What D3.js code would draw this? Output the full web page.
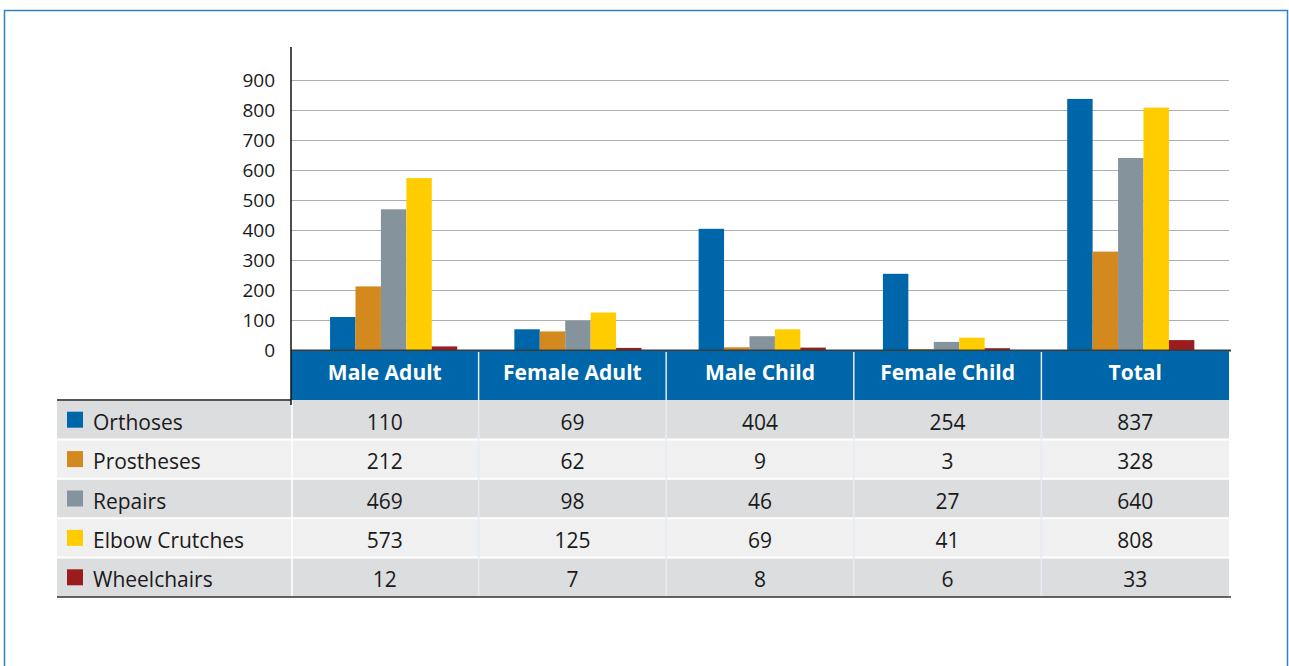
<!DOCTYPE html>
<html>
<head>
<meta charset="utf-8">
<script src="https://cdn.jsdelivr.net/npm/d3@7"></script>
<style>
  body { margin: 0; background: #fff; }
  svg { display: block; font-family: "Open Sans", "Noto Sans", sans-serif; }
</style>
</head>
<body>
<svg id="chart" width="1289" height="666"></svg>
<script>
const categories = ["Male Adult", "Female Adult", "Male Child", "Female Child", "Total"];
const series = ["Orthoses", "Prostheses", "Repairs", "Elbow Crutches", "Wheelchairs"];
const orthoses = [110, 69, 404, 254, 837];
const prostheses = [212, 62, 9, 3, 328];
const repairs = [469, 98, 46, 27, 640];
const elbowCrutches = [573, 125, 69, 41, 808];
const wheelchairs = [12, 7, 8, 6, 33];
const yTicks = [0, 100, 200, 300, 400, 500, 600, 700, 800, 900];
const colors = ["#0066aa", "#d4891e", "#85939c", "#ffcc00", "#9b1c1f"];

const values = [orthoses, prostheses, repairs, elbowCrutches, wheelchairs];

const svg = d3.select("#chart");

// light blue frame
svg.append("rect")
    .attr("x", 4.5).attr("y", 10.5)
    .attr("width", 1283).attr("height", 700)
    .attr("fill", "none")
    .attr("stroke", "#2f83c4")
    .attr("stroke-width", 1.5);

const plotLeft = 291, plotRight = 1229, tableLeft = 57;
const headTop = 351, headBottom = 400, rowH = 39.4;

const y = d3.scaleLinear().domain([0, 900]).range([350, 80]);

// table column scale (no padding)
const xCol = d3.scaleBand().domain(categories).range([plotLeft, plotRight]);

// bar group scale
const x0 = d3.scaleBand().domain(categories).range([plotLeft, plotRight])
    .paddingInner(0.31).paddingOuter(0.2).align(0.53);
const x1 = d3.scaleBand().domain(series).range([0, x0.bandwidth()]);

// gridlines + tick labels
const yAxis = d3.axisLeft(y).tickValues(yTicks).tickSize(0).tickPadding(16);
const gy = svg.append("g").attr("transform", `translate(${plotLeft},0)`).call(yAxis);
gy.select(".domain").remove();
gy.selectAll("text")
    .attr("font-size", 19)
    .attr("fill", "#1a1a1a")
    .attr("font-family", "'Open Sans', sans-serif");

svg.append("g")
  .selectAll("line")
  .data(yTicks.filter(d => d > 0))
  .join("line")
    .attr("x1", plotLeft).attr("x2", plotRight)
    .attr("y1", d => Math.round(y(d)) + 0.5)
    .attr("y2", d => Math.round(y(d)) + 0.5)
    .attr("stroke", "#b0b0b0")
    .attr("stroke-width", 1.2);

// bars
const gBars = svg.append("g");
categories.forEach((c, ci) => {
  gBars.append("g")
      .attr("transform", `translate(${x0(c)},0)`)
    .selectAll("rect")
    .data(series.map((s, si) => ({ s, v: values[si][ci], color: colors[si] })))
    .join("rect")
      .attr("x", d => x1(d.s))
      .attr("y", d => y(d.v))
      .attr("width", x1.bandwidth())
      .attr("height", d => y(0) - y(d.v))
      .attr("fill", d => d.color);
});

// baseline
svg.append("line")
    .attr("x1", plotLeft).attr("x2", plotRight + 2)
    .attr("y1", 350.5).attr("y2", 350.5)
    .attr("stroke", "#3a3a3a").attr("stroke-width", 2);

// header band
svg.append("rect")
    .attr("x", plotLeft).attr("y", headTop)
    .attr("width", plotRight - plotLeft).attr("height", headBottom - headTop)
    .attr("fill", "#0066aa");

svg.append("g")
  .selectAll("text")
  .data(categories)
  .join("text")
    .attr("x", d => xCol(d) + xCol.bandwidth() / 2)
    .attr("y", (headTop + headBottom) / 2 + 4)
    .attr("text-anchor", "middle")
    .attr("font-size", 21)
    .attr("font-weight", "bold")
    .attr("fill", "#fff")
    .text(d => d);

// table rows
const rows = svg.append("g");
series.forEach((s, si) => {
  const top = headBottom + si * rowH;
  rows.append("rect")
      .attr("x", tableLeft).attr("y", top)
      .attr("width", plotRight - tableLeft).attr("height", rowH)
      .attr("fill", si % 2 === 0 ? "#dcdddf" : "#f0f0f0");
  if (si > 0) {
    rows.append("line")
        .attr("x1", tableLeft).attr("x2", plotRight)
        .attr("y1", top).attr("y2", top)
        .attr("stroke", "#fff").attr("stroke-width", 2);
  }
  rows.append("rect")
      .attr("x", 67).attr("y", top + rowH / 2 - 8)
      .attr("width", 16).attr("height", 16)
      .attr("fill", colors[si]);
  rows.append("text")
      .attr("x", 93).attr("y", top + rowH / 2 + 10)
      .attr("font-size", 21)
      .attr("fill", "#1a1a1a")
      .text(s);
  rows.selectAll(null)
    .data(categories)
    .join("text")
      .attr("x", d => xCol(d) + xCol.bandwidth() / 2)
      .attr("y", top + rowH / 2 + 10)
      .attr("text-anchor", "middle")
      .attr("font-size", 21)
      .attr("fill", "#1a1a1a")
      .text((d, ci) => values[si][ci]);
});

// column separators
svg.append("g")
  .selectAll("line")
  .data(categories)
  .join("line")
    .attr("x1", d => xCol(d)).attr("x2", d => xCol(d))
    .attr("y1", headTop + 1).attr("y2", headBottom + series.length * rowH)
    .attr("stroke", d => d === categories[0] ? "none" : "#e4ecf4")
    .attr("stroke-width", 1.5);
svg.append("line")
    .attr("x1", plotLeft + 1).attr("x2", plotLeft + 1)
    .attr("y1", headBottom).attr("y2", headBottom + series.length * rowH)
    .attr("stroke", "#fff").attr("stroke-width", 1.5);

// top line of legend column and bottom rule
svg.append("line")
    .attr("x1", tableLeft).attr("x2", plotLeft)
    .attr("y1", headBottom).attr("y2", headBottom)
    .attr("stroke", "#555").attr("stroke-width", 2);
svg.append("line")
    .attr("x1", tableLeft).attr("x2", plotRight + 2)
    .attr("y1", headBottom + series.length * rowH).attr("y2", headBottom + series.length * rowH)
    .attr("stroke", "#333").attr("stroke-width", 1.5);

// y axis line
svg.append("line")
    .attr("x1", plotLeft).attr("x2", plotLeft)
    .attr("y1", 47).attr("y2", 405)
    .attr("stroke", "#111").attr("stroke-width", 1.5);
</script>
</body>
</html>
